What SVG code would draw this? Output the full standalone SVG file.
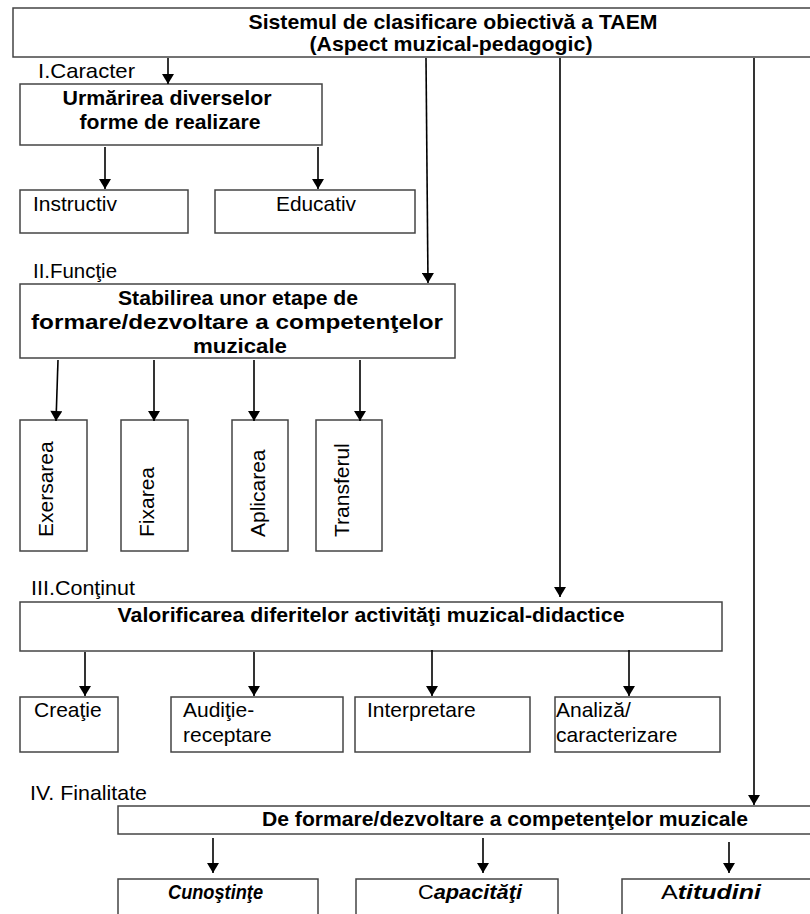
<svg xmlns="http://www.w3.org/2000/svg" width="810" height="914" viewBox="0 0 810 914">
<style>
.box{fill:#fff;stroke:#444;stroke-width:1.5}
.t{font-family:"Liberation Sans",Arial,sans-serif;font-size:21px;fill:#000}
.b{font-weight:bold}
.c{text-anchor:middle}
.ar{stroke:#000;stroke-width:1.6;fill:none;marker-end:url(#ah)}
</style>
<defs>
<marker id="ah" viewBox="0 0 10 12" refX="10" refY="6" markerWidth="12" markerHeight="12" markerUnits="userSpaceOnUse" orient="auto">
<path d="M0,0 L10,6 L0,12 Z" fill="#000"/>
</marker>
</defs>
<rect width="810" height="914" fill="#fff"/>

<g id="title">
<rect class="box" x="13" y="8" width="806" height="49"/>
<text class="t b c" x="453" y="29" font-size="19" textLength="409" lengthAdjust="spacingAndGlyphs">Sistemul de clasificare obiectivă a TAEM</text>
<text class="t b c" x="451" y="51" font-size="19" textLength="283" lengthAdjust="spacingAndGlyphs">(Aspect muzical-pedagogic)</text>
</g>

<text class="t" x="38" y="78" textLength="97" lengthAdjust="spacingAndGlyphs">I.Caracter</text>
<text class="t" x="33" y="278" textLength="84" lengthAdjust="spacingAndGlyphs">II.Funcţie</text>
<text class="t" x="31" y="595" textLength="104" lengthAdjust="spacingAndGlyphs">III.Conţinut</text>
<text class="t" x="30" y="800" textLength="117" lengthAdjust="spacingAndGlyphs">IV. Finalitate</text>

<g id="urmarirea">
<rect class="box" x="20" y="84" width="302" height="61"/>
<text class="t b c" x="167" y="105" textLength="209" lengthAdjust="spacingAndGlyphs">Urmărirea  diverselor</text>
<text class="t b c" x="170" y="129" textLength="181" lengthAdjust="spacingAndGlyphs">forme de realizare</text>
</g>
<g id="instructiv">
<rect class="box" x="20" y="190" width="168" height="43"/>
<text class="t" x="33" y="211" textLength="84" lengthAdjust="spacingAndGlyphs">Instructiv</text>
</g>
<g id="educativ">
<rect class="box" x="215" y="190" width="200" height="43"/>
<text class="t c" x="316" y="211" textLength="80" lengthAdjust="spacingAndGlyphs">Educativ</text>
</g>

<g id="stabilirea">
<rect class="box" x="20" y="284" width="435" height="74"/>
<text class="t b c" x="238" y="305" textLength="240" lengthAdjust="spacingAndGlyphs">Stabilirea unor etape de</text>
<text class="t b c" x="237" y="329" textLength="412" lengthAdjust="spacingAndGlyphs">formare/dezvoltare a competenţelor</text>
<text class="t b c" x="240" y="353" textLength="94" lengthAdjust="spacingAndGlyphs">muzicale</text>
</g>
<g id="exersarea">
<rect class="box" x="20" y="420" width="67" height="131"/>
<text class="t" transform="translate(53,537) rotate(-90)">Exersarea</text>
</g>
<g id="fixarea">
<rect class="box" x="121" y="420" width="67" height="131"/>
<text class="t" transform="translate(154,537) rotate(-90)">Fixarea</text>
</g>
<g id="aplicarea">
<rect class="box" x="232" y="420" width="56" height="131"/>
<text class="t" transform="translate(265,537) rotate(-90)">Aplicarea</text>
</g>
<g id="transferul">
<rect class="box" x="316" y="420" width="66" height="131"/>
<text class="t" transform="translate(349,537) rotate(-90)">Transferul</text>
</g>

<g id="valorificarea">
<rect class="box" x="20" y="602" width="702" height="49"/>
<text class="t b c" x="371" y="622" textLength="507" lengthAdjust="spacingAndGlyphs">Valorificarea diferitelor activităţi muzical-didactice</text>
</g>
<g id="creatie">
<rect class="box" x="20" y="697" width="98" height="55"/>
<text class="t" x="34" y="717">Creaţie</text>
</g>
<g id="auditie">
<rect class="box" x="171" y="697" width="172" height="55"/>
<text class="t" x="183" y="717">Audiţie-</text>
<text class="t" x="183" y="742">receptare</text>
</g>
<g id="interpretare">
<rect class="box" x="355" y="697" width="175" height="55"/>
<text class="t" x="367" y="717">Interpretare</text>
</g>
<g id="analiza">
<rect class="box" x="555" y="697" width="165" height="55"/>
<text class="t" x="556" y="717">Analiză/</text>
<text class="t" x="556" y="742">caracterizare</text>
</g>

<g id="deformare">
<rect class="box" x="118" y="806" width="700" height="28"/>
<text class="t b c" x="505" y="826" textLength="486" lengthAdjust="spacingAndGlyphs">De formare/dezvoltare a competenţelor muzicale</text>
</g>
<g id="cunostinte">
<rect class="box" x="118" y="879" width="200" height="45"/>
<text class="t b" x="168" y="899" font-style="italic" textLength="95" lengthAdjust="spacingAndGlyphs">Cunoştinţe</text>
</g>
<g id="capacitati">
<rect class="box" x="356" y="879" width="202" height="45"/>
<text class="t" x="418" y="899" textLength="104" lengthAdjust="spacingAndGlyphs">C<tspan font-weight="bold" font-style="italic">apacităţi</tspan></text>
</g>
<g id="atitudini">
<rect class="box" x="622" y="879" width="196" height="45"/>
<text class="t" x="661" y="899" textLength="100" lengthAdjust="spacingAndGlyphs">A<tspan font-weight="bold" font-style="italic">titudini</tspan></text>
</g>

<g id="connectors">
<line class="ar" x1="168" y1="58" x2="168" y2="84"/>
<line class="ar" x1="105" y1="147" x2="105" y2="189"/>
<line class="ar" x1="318" y1="147" x2="318" y2="189"/>
<line class="ar" x1="426" y1="58" x2="428" y2="283"/>
<line class="ar" x1="58" y1="360" x2="56" y2="421"/>
<line class="ar" x1="154" y1="360" x2="154" y2="421"/>
<line class="ar" x1="254" y1="360" x2="254" y2="421"/>
<line class="ar" x1="360" y1="360" x2="360" y2="421"/>
<line class="ar" x1="560" y1="58" x2="560" y2="597"/>
<line class="ar" x1="85" y1="652" x2="85" y2="696"/>
<line class="ar" x1="254" y1="652" x2="254" y2="696"/>
<line class="ar" x1="432" y1="650" x2="432" y2="696"/>
<line class="ar" x1="629" y1="650" x2="629" y2="696"/>
<line class="ar" x1="754" y1="58" x2="754" y2="805"/>
<line class="ar" x1="213" y1="838" x2="213" y2="873"/>
<line class="ar" x1="483" y1="838" x2="483" y2="873"/>
<line class="ar" x1="729" y1="842" x2="729" y2="873"/>
</g>
</svg>
